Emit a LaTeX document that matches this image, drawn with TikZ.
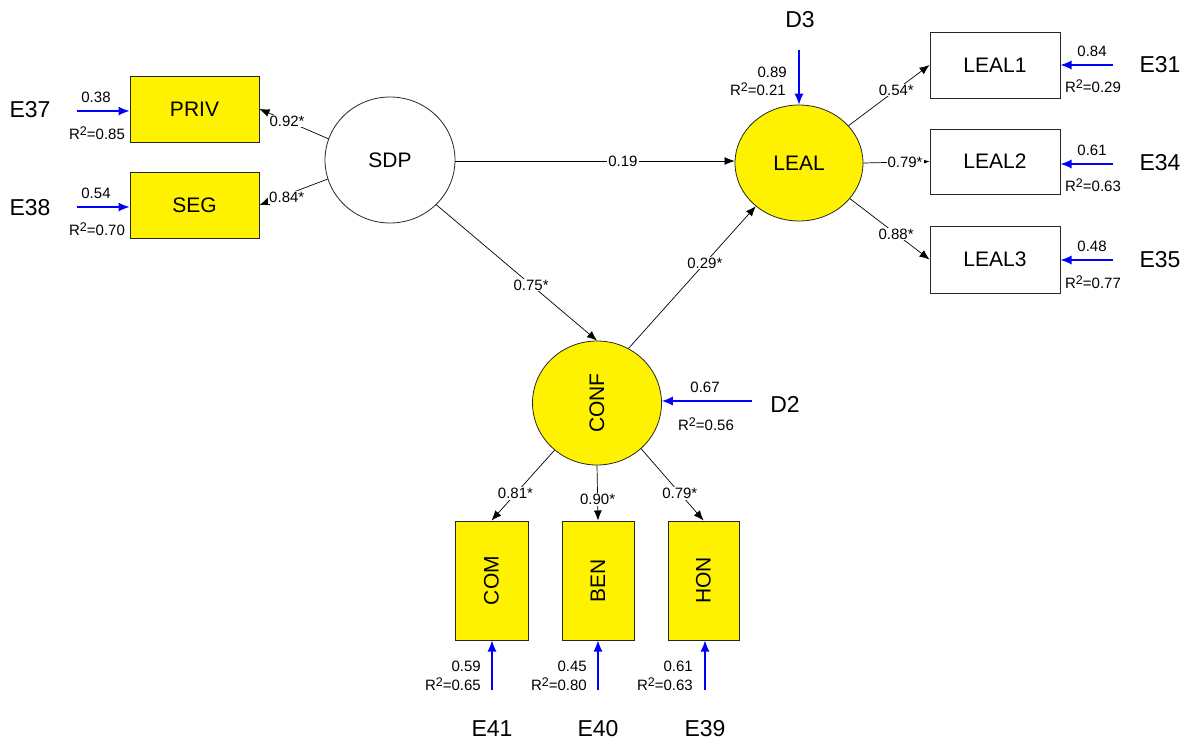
\documentclass[tikz,border=0pt]{standalone}
\usepackage{fontspec}
\setmainfont{Liberation Sans}
\usepackage{graphicx}
\usetikzlibrary{arrows.meta,shapes.geometric}
\newcommand{\rsq}[1]{R\raisebox{0.55ex}{\fontsize{12.5}{13}\selectfont 2}=#1}
\begin{document}
\begin{tikzpicture}[x=1pt,y=-1pt,
  box/.style={rectangle,draw=black!85,line width=1pt,inner sep=0pt,font=\fontsize{21}{24}\selectfont},
  ybox/.style={box,fill=yellow},
  wbox/.style={box,fill=white},
  lat/.style={ellipse,draw=black!85,line width=0.8pt,inner sep=0pt,font=\fontsize{21}{24}\selectfont},
  elab/.style={inner sep=0pt,font=\fontsize{23}{26}\selectfont},
  small/.style={inner sep=0pt,font=\fontsize{15}{17}\selectfont},
  coef/.style={small,fill=white,inner sep=1pt},
  pathar/.style={draw=black,line width=0.7pt,-{Latex[length=10pt,width=8pt]}},
  errar/.style={draw=blue,line width=1.1pt,-{Latex[length=11pt,width=9pt]}}
]
\useasboundingbox (0,0) rectangle (1190,742);
\fill[white] (0,0) rectangle (1190,742);

% observed indicators
\node[ybox,minimum width=129pt,minimum height=66pt] (priv) at (194.5,109) {PRIV};
\node[ybox,minimum width=129pt,minimum height=66pt] (seg) at (194.5,205) {SEG};
\node[wbox,minimum width=130pt,minimum height=66pt] (leal1) at (995,65) {LEAL1};
\node[wbox,minimum width=130pt,minimum height=65pt] (leal2) at (995,161.5) {LEAL2};
\node[wbox,minimum width=130pt,minimum height=67pt] (leal3) at (995,259.5) {LEAL3};
\node[ybox,minimum width=73pt,minimum height=119pt] (com) at (491.5,580.5) {\rotatebox{90}{COM}};
\node[ybox,minimum width=72pt,minimum height=119pt] (ben) at (598,580.5) {\rotatebox{90}{BEN}};
\node[ybox,minimum width=71pt,minimum height=119pt] (hon) at (703.5,580.5) {\rotatebox{90}{HON}};

% latent variables
\node[lat,fill=white,minimum width=130pt,minimum height=126pt] (sdp) at (390,160) {SDP};
\node[lat,fill=yellow,minimum width=128pt,minimum height=116pt] (leal) at (799,163) {LEAL};
\node[lat,fill=yellow,minimum width=129pt,minimum height=124pt] (conf) at (597,403) {\rotatebox{90}{CONF}};

% error / disturbance labels
\node[elab] (e37) at (30,110) {E37};
\node[elab] (e38) at (30,208) {E38};
\node[elab] (e31) at (1160,65) {E31};
\node[elab] (e34) at (1160,163) {E34};
\node[elab] (e35) at (1160,260) {E35};
\node[elab] (d3) at (800,20) {D3};
\node[elab] (d2) at (785,404) {D2};
\node[elab] (e41) at (492,729) {E41};
\node[elab] (e40) at (598,729) {E40};
\node[elab] (e39) at (705,729) {E39};

% error arrow start points
\coordinate (c37) at (77,111);
\coordinate (c38) at (77,207);
\coordinate (c31) at (1113,65);
\coordinate (c34) at (1113,164);
\coordinate (c35) at (1113,260);
\coordinate (c3) at (799,50);
\coordinate (c2) at (752,401);
\coordinate (c41) at (492,690);
\coordinate (c40) at (598,690);
\coordinate (c39) at (705,690);

\draw[errar] (c37) -- (priv.west |- c37);
\draw[errar] (c38) -- (seg.west |- c38);
\draw[errar] (c31) -- (leal1.east |- c31);
\draw[errar] (c34) -- (leal2.east |- c34);
\draw[errar] (c35) -- (leal3.east |- c35);
\draw[errar] (c3) -- (leal.north);
\draw[errar] (c2) -- (conf.east |- c2);
\draw[errar] (c41) -- (com.south -| c41);
\draw[errar] (c40) -- (ben.south -| c40);
\draw[errar] (c39) -- (hon.south -| c39);

% error values
\node[small] (v37) at (96,97) {0.38};
\node[small] (r37) at (97,133) {\rsq{0.85}};
\node[small] (v38) at (96,193) {0.54};
\node[small] (r38) at (97,229) {\rsq{0.70}};
\node[small] (v31) at (1092,51) {0.84};
\node[small] (r31) at (1093,86) {\rsq{0.29}};
\node[small] (v34) at (1092,150) {0.61};
\node[small] (r34) at (1093,185) {\rsq{0.63}};
\node[small] (v35) at (1092,246) {0.48};
\node[small] (r35) at (1093,282) {\rsq{0.77}};
\node[small,anchor=east] (v3) at (787,72) {0.89};
\node[small,anchor=east] (r3) at (786,89) {\rsq{0.21}};
\node[small] (v2) at (705,387) {0.67};
\node[small] (r2) at (706,424) {\rsq{0.56}};
\node[small,anchor=east] (v41) at (481,666) {0.59};
\node[small,anchor=east] (r41) at (481,684) {\rsq{0.65}};
\node[small,anchor=east] (v40) at (587,666) {0.45};
\node[small,anchor=east] (r40) at (587,684) {\rsq{0.80}};
\node[small,anchor=east] (v39) at (693,666) {0.61};
\node[small,anchor=east] (r39) at (693,684) {\rsq{0.63}};

% structural and measurement paths
\draw[pathar] (sdp.161) -- node[coef,pos=0.6] {0.92*} (priv.east);
\draw[pathar] (sdp.197) -- node[coef,pos=0.6,yshift=-3pt] {0.84*} (seg.east);
\draw[pathar] (sdp.east |- 0,161) -- node[coef,pos=0.6] {0.19} (leal.west |- 0,161);
\draw[pathar] (sdp.316) -- node[coef,pos=0.59] {0.75*} (conf.north);
\draw[pathar] (conf.60) -- node[coef,pos=0.6] {0.29*} (leal.225);
\draw[pathar] (leal.37) -- node[coef,pos=0.59] {0.54*} (leal1.west);
\draw[pathar] (leal.east) -- node[coef,pos=0.63] {0.79*} (leal2.west);
\draw[pathar] (leal.325) -- node[coef,pos=0.58] {0.88*} (leal3.west);
\draw[pathar] (conf.228) -- node[coef,pos=0.62] {0.81*} (com.north);
\draw[pathar] (conf.south) -- node[coef,pos=0.62] {0.90*} (ben.north);
\draw[pathar] (conf.314) -- node[coef,pos=0.62] {0.79*} (hon.north);
\end{tikzpicture}
\end{document}
